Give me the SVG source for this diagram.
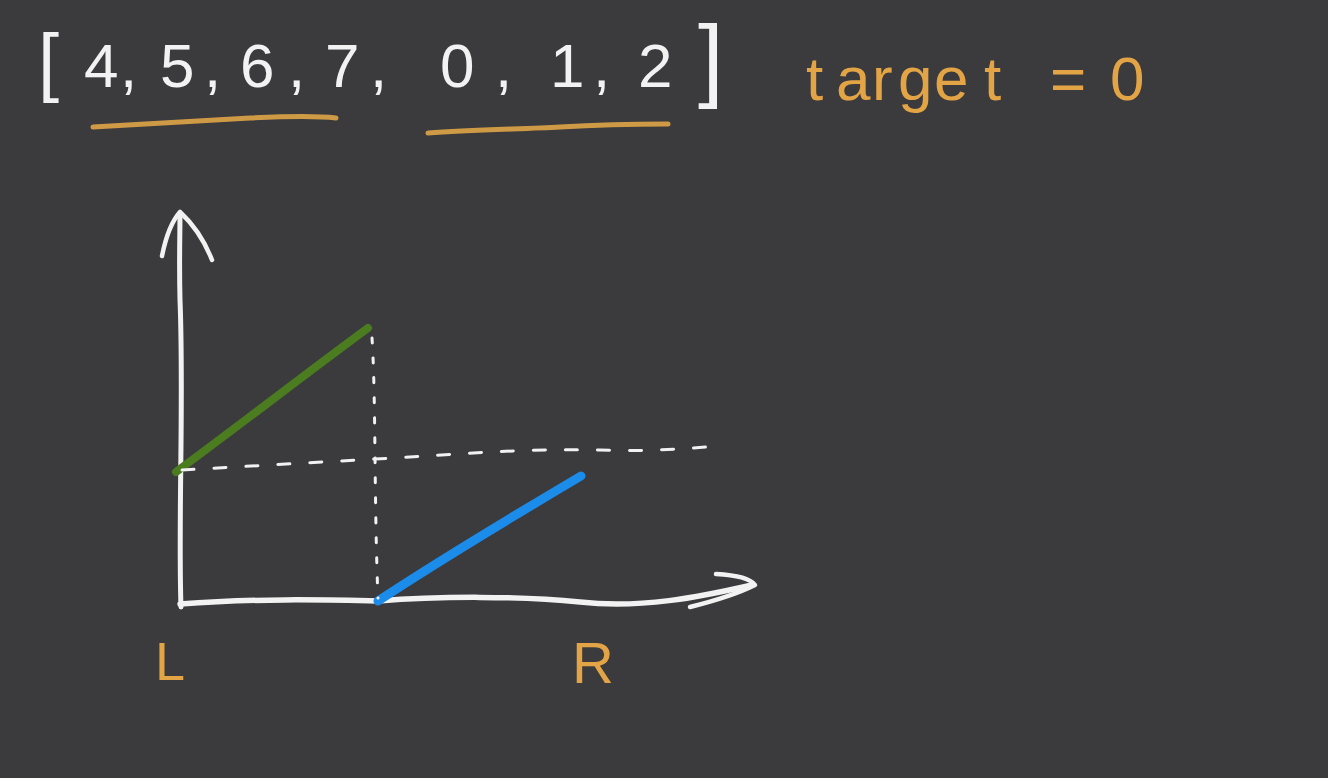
<svg xmlns="http://www.w3.org/2000/svg" width="1328" height="778" viewBox="0 0 1328 778">
<style>
.chalk{fill:none;stroke:#f2f2f2;stroke-linecap:round;stroke-linejoin:round}
.arr{font-family:"Liberation Sans",Arial,sans-serif;fill:#f2f2f2}
.or{font-family:"Liberation Sans",Arial,sans-serif;fill:#e3a446}
.ul{fill:none;stroke:#cf9a45;stroke-width:5;stroke-linecap:round}
</style>
<rect width="1328" height="778" fill="#3b3a3d"/>
<g id="array">
<text class="arr" y="87" font-size="62"><tspan x="38" font-size="76">[</tspan><tspan x="84">4</tspan><tspan x="120">,</tspan><tspan x="160">5</tspan><tspan x="204">,</tspan><tspan x="240">6</tspan><tspan x="288">,</tspan><tspan x="325">7</tspan><tspan x="370">,</tspan><tspan x="440">0</tspan><tspan x="495">,</tspan><tspan x="550">1</tspan><tspan x="593">,</tspan><tspan x="638">2</tspan><tspan x="698" y="90" font-size="92">]</tspan></text>
<path class="ul" d="M93,127 C150,124 200,121 250,118 C290,116 320,116 336,118"/>
<path class="ul" d="M428,133 C470,130 520,129 560,127 C610,124 645,124 668,124"/>
</g>
<g id="target">
<text class="or" y="100" font-size="62"><tspan x="806">t</tspan><tspan x="836">a</tspan><tspan x="872">r</tspan><tspan x="898">g</tspan><tspan x="934">e</tspan><tspan x="984">t</tspan><tspan x="1050">=</tspan><tspan x="1110">0</tspan></text>
</g>
<g id="axes">
<path class="chalk" stroke-width="5" d="M181,607 C178,520 184,400 180,300 C179,260 180,235 180,213"/>
<path class="chalk" stroke-width="4.5" d="M162,256 C166,236 172,221 180,212 C193,224 205,242 212,260"/>
<path class="chalk" stroke-width="5.5" d="M180,604 C260,598 330,600 378,601 C440,596 520,596 580,602 C640,609 700,597 752,585"/>
<path class="chalk" stroke-width="4.5" d="M716,574 C735,575 750,578 755,585 C735,595 710,602 690,607"/>
</g>
<g id="segments">
<path fill="none" stroke="#4b7c1f" stroke-width="8" stroke-linecap="round" d="M176,472 C240,425 300,378 368,328"/>
<path fill="none" stroke="#1c8ceb" stroke-width="9" stroke-linecap="round" d="M378,601 C440,560 510,518 581,476"/>
</g>
<g id="guides">
<path class="chalk" stroke-width="3" stroke-dasharray="5 15" d="M372,338 C376,400 374,500 378,598"/>
<path class="chalk" stroke-width="3" stroke-dasharray="12 20" d="M182,470 L375,459 C450,455 520,448 600,450 C650,452 690,448 720,446"/>
</g>
<g id="labels">
<text class="or" x="155" y="680" font-size="54">L</text>
<text class="or" x="572" y="683" font-size="58">R</text>
</g>
</svg>
